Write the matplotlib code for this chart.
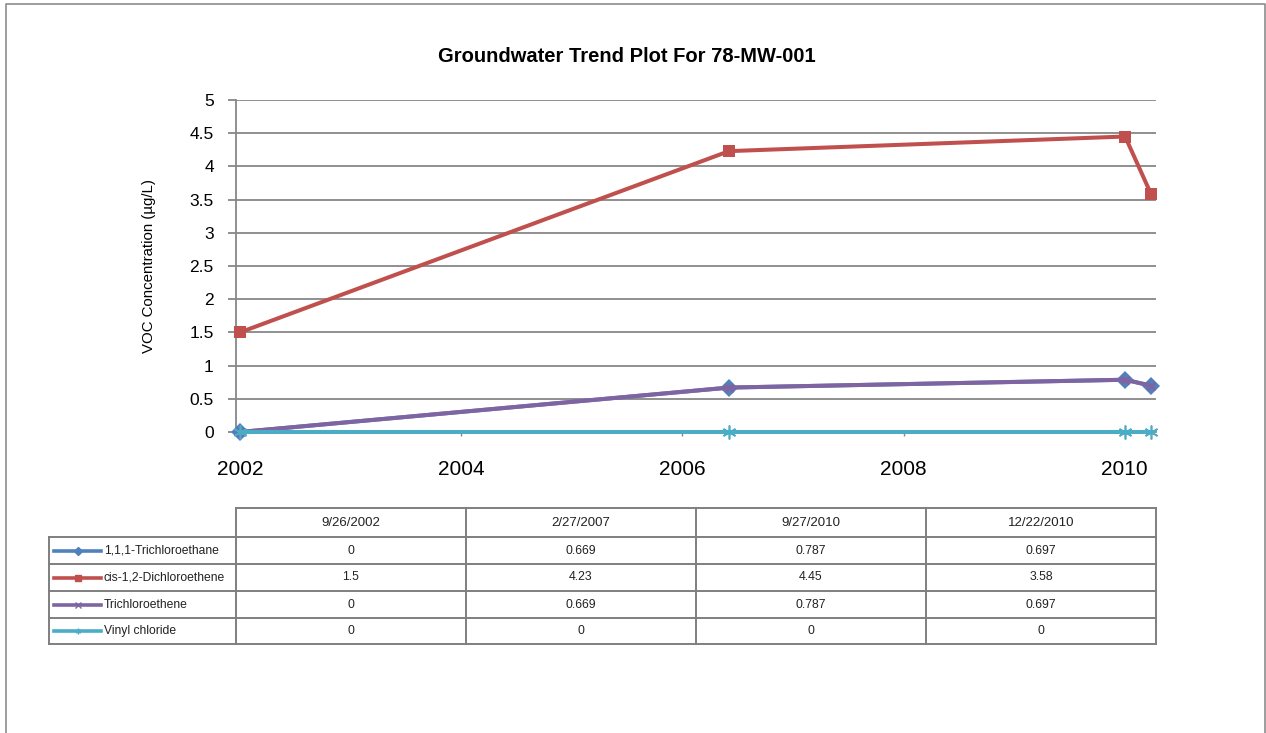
import numpy as np
import pandas as pd
import matplotlib
matplotlib.use("Agg")
import matplotlib.pyplot as plt
import matplotlib.dates as mdates
from matplotlib.lines import Line2D

# sample dates and concentrations (ug/L)
sample_dates = ["9/26/2002", "2/27/2007", "9/27/2010", "12/22/2010"]
tca = [0, 0.669, 0.787, 0.697]
dce = [1.5, 4.23, 4.45, 3.58]
tce = [0, 0.669, 0.787, 0.697]
vinyl = [0, 0, 0, 0]

series_names = ["1,1,1-Trichloroethane", "cis-1,2-Dichloroethene", "Trichloroethene", "Vinyl chloride"]
series_values = [tca, dce, tce, vinyl]
series_colors = ["#4F81BD", "#C0504D", "#8064A2", "#4BACC6"]
series_markers = ["D", "s", "x", (6, 2, 0)]

y_ticks = np.arange(0, 5.01, 0.5)

W, H = 1266, 733
GRID = "#878787"
plt.rcParams["font.family"] = ["Liberation Sans", "DejaVu Sans"]


def px_box(left, top, right, bottom):
    return [left / W, 1 - bottom / H, (right - left) / W, (bottom - top) / H]


fig = plt.figure(figsize=(W / 100, H / 100), dpi=100)
fig.patch.set_facecolor("white")

# overlay in pixel coordinates for the frame and the data table
ov = fig.add_axes([0, 0, 1, 1])
ov.set_xlim(0, W)
ov.set_ylim(H, 0)
ov.axis("off")
ov.plot([6, 6, 1265, 1265], [H + 5, 4, 4, H + 5], color="#8c8c8c", lw=1.2)

ax = fig.add_axes(px_box(236, 100, 1156, 432))
ax.patch.set_alpha(0)
dates = pd.to_datetime(sample_dates, format="%m/%d/%Y")

styles = {
    "D": dict(ms=9, mew=0),
    "s": dict(ms=8.8, mew=0),
    "x": dict(ms=6, mew=1.8),
}
for name, vals, color, marker in zip(series_names, series_values, series_colors, series_markers):
    kw = styles.get(marker, dict(ms=10, mew=1.2)) if isinstance(marker, str) else dict(ms=10, mew=1.2)
    ax.plot(dates, vals, color=color, lw=2.9, marker=marker, mfc=color, mec=color,
            clip_on=False, zorder=3, solid_joinstyle="miter", **kw)

ticks = pd.date_range(start=dates[0], periods=5, freq=pd.DateOffset(years=2))
ax.set_xticks(ticks)
ax.xaxis.set_major_formatter(mdates.DateFormatter("%Y"))
ax.set_xlim(dates[0] - pd.Timedelta(days=13), dates[-1] + pd.Timedelta(days=16))
ax.set_ylim(0, 5)
ax.set_yticks(y_ticks)
ax.set_yticklabels([f"{v:g}" for v in y_ticks])

ax.yaxis.grid(True, color=GRID, lw=1.3)
ax.set_axisbelow(True)
for s in ["top", "right"]:
    ax.spines[s].set_visible(False)
for s in ["left", "bottom"]:
    ax.spines[s].set_color(GRID)
    ax.spines[s].set_linewidth(1.3)
ax.tick_params(axis="y", direction="out", length=6, width=1.3, color=GRID, labelsize=12.5, pad=10)
ax.tick_params(axis="x", direction="out", length=3, width=1.0, color=GRID, labelsize=15, pad=17)

ax.set_ylabel("VOC Concentration (\u00b5g/L)", fontsize=10.8, labelpad=24)
fig.text(627 / W, 1 - 57 / H, "Groundwater Trend Plot For 78-MW-001", ha="center", va="center",
         fontsize=14.5, fontweight="bold")

# data table under the chart
col_x = [49, 236, 466, 696, 926, 1156]
row_y = [508, 537, 564, 591, 618, 644]
tc = "#7f7f7f"
ov.plot([col_x[1], col_x[-1]], [row_y[0], row_y[0]], color=tc, lw=1.4)
for y in row_y[1:]:
    ov.plot([col_x[0], col_x[-1]], [y, y], color=tc, lw=1.4)
ov.plot([col_x[0], col_x[0]], [row_y[1], row_y[-1]], color=tc, lw=1.4)
for x in col_x[1:]:
    ov.plot([x, x], [row_y[0], row_y[-1]], color=tc, lw=1.4)

for j, d in enumerate(sample_dates):
    ov.text((col_x[j + 1] + col_x[j + 2]) / 2, (row_y[0] + row_y[1]) / 2, d,
            ha="center", va="center", fontsize=9.5, color="#222222")

for i, (name, vals, color, marker) in enumerate(zip(series_names, series_values, series_colors, series_markers)):
    yc = (row_y[i + 1] + row_y[i + 2]) / 2
    ov.add_line(Line2D([54, 101], [yc, yc], color=color, lw=2.6))
    ov.plot([77.5], [yc], marker=marker, color=color, ms=4 if marker != "s" else 5, mew=1.0)
    ov.text(104, yc, name, ha="left", va="center", fontsize=8.7, color="#222222")
    for j, v in enumerate(vals):
        ov.text((col_x[j + 1] + col_x[j + 2]) / 2, yc, f"{v:g}", ha="center", va="center",
                fontsize=8.8, color="#222222")

fig.savefig("out.png", dpi=100, facecolor="white")
